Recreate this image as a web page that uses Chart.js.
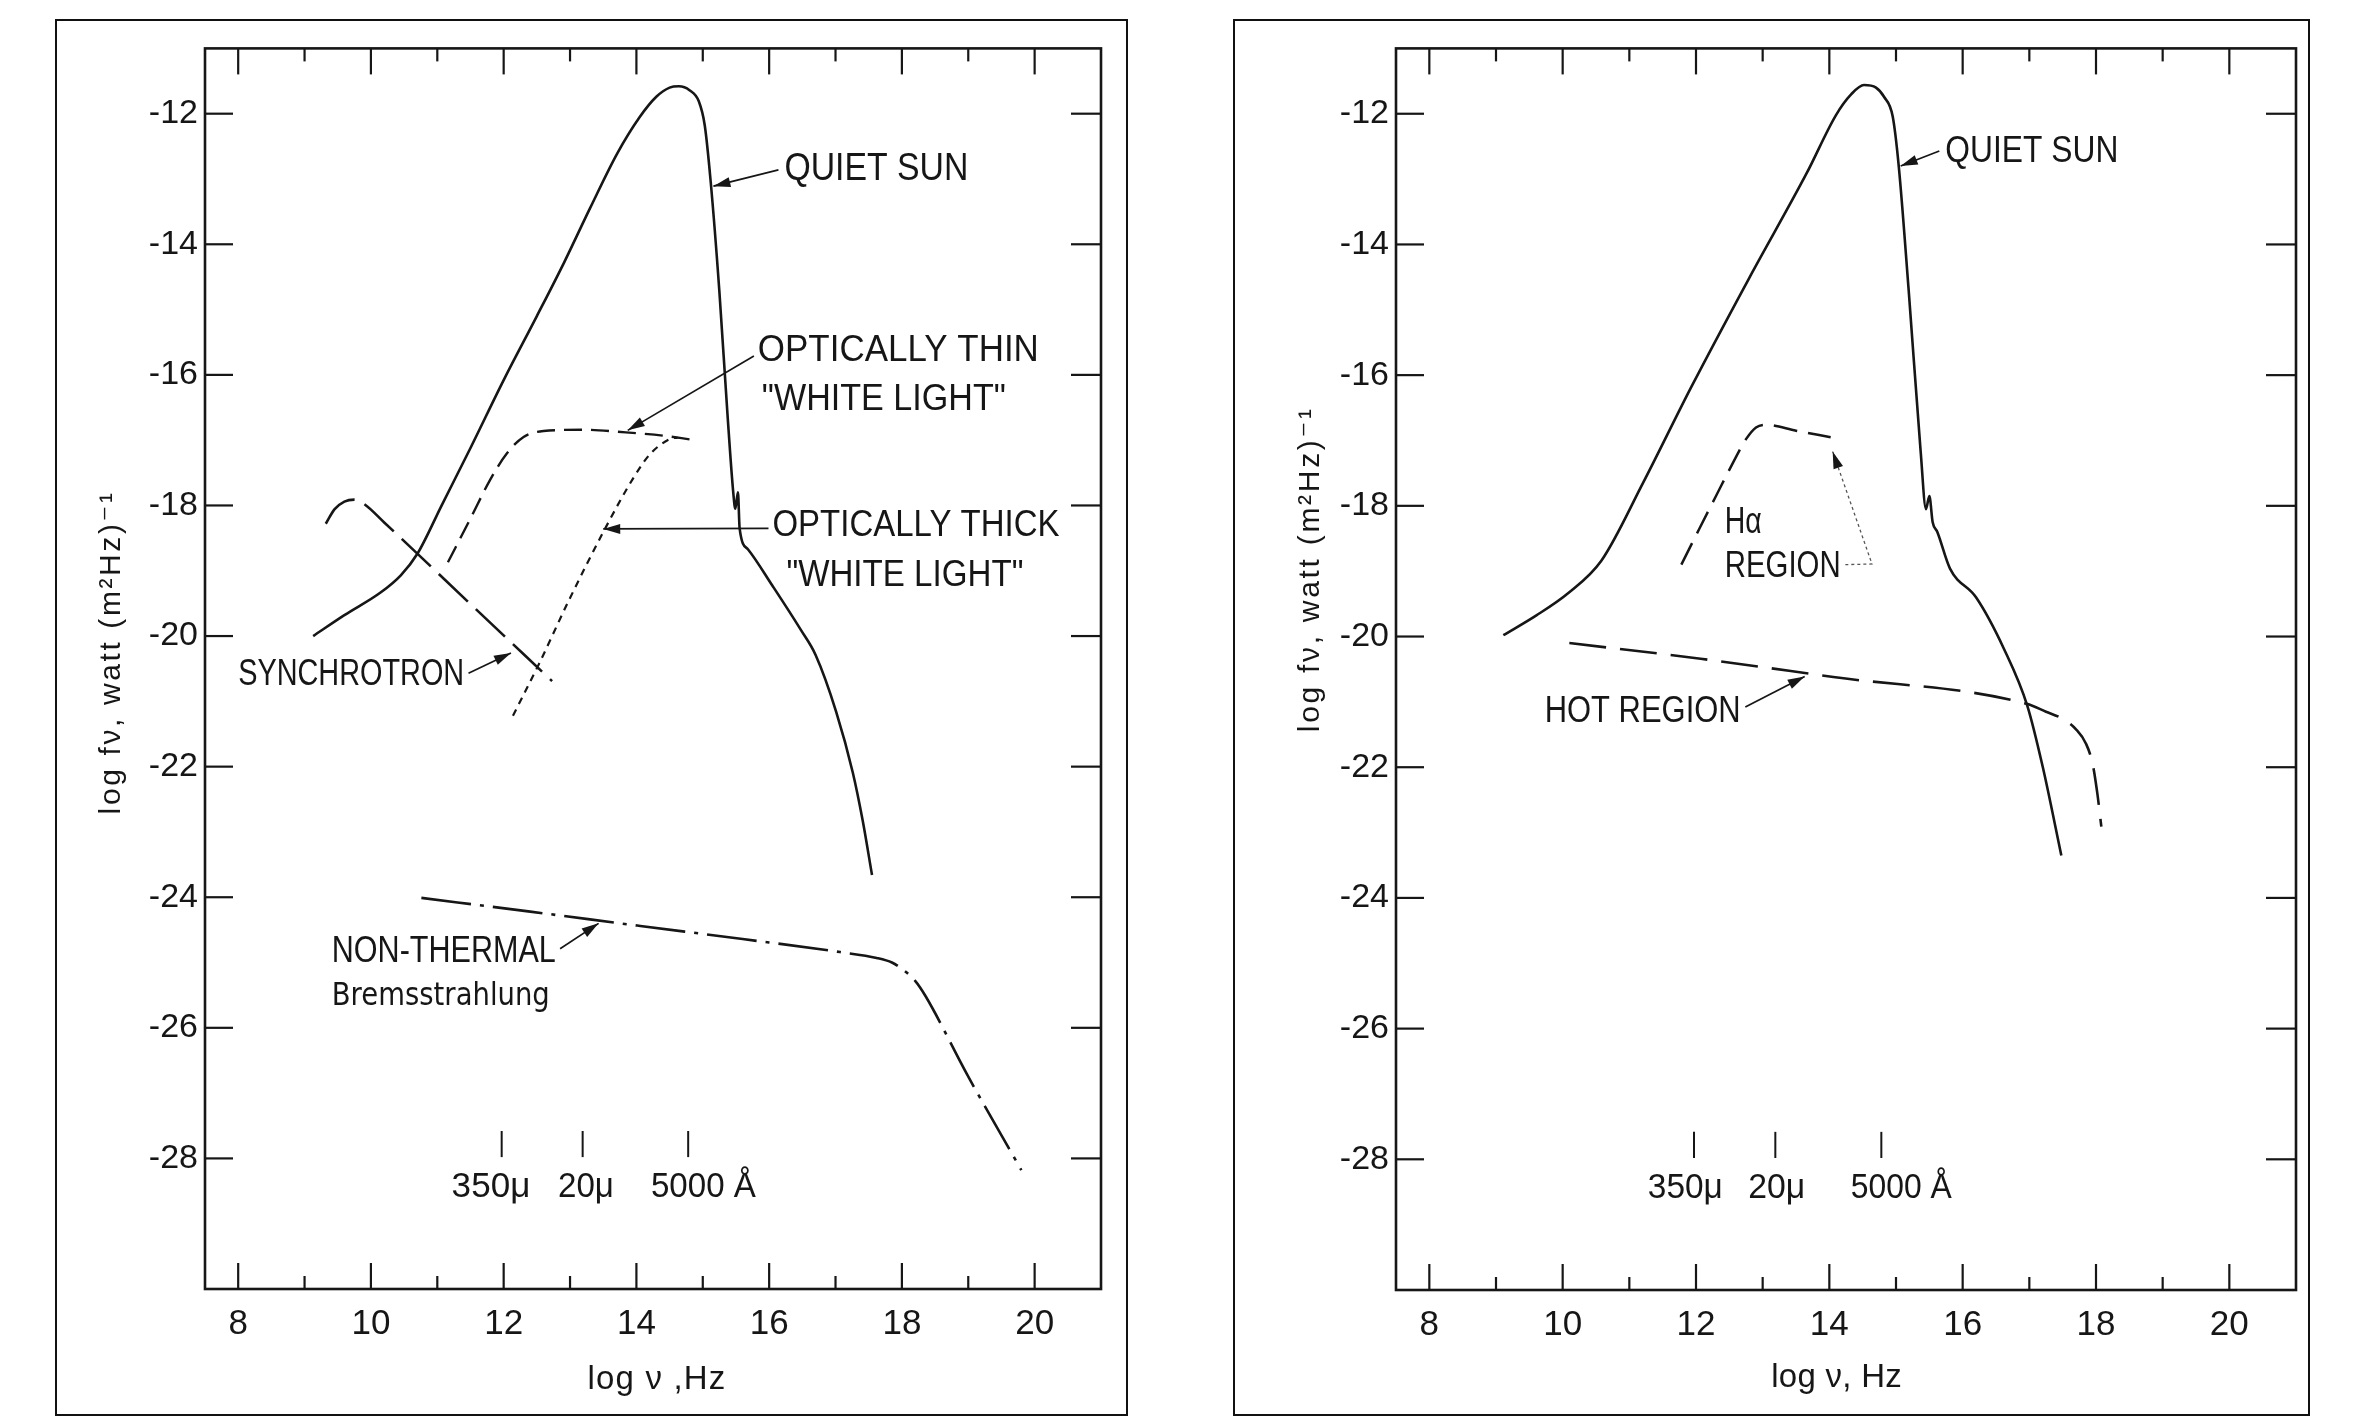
<!DOCTYPE html>
<html>
<head>
<meta charset="utf-8">
<script src="https://cdn.jsdelivr.net/npm/chart.js@4.4.1/dist/chart.umd.min.js"></script>
<style>
  html, body { margin: 0; padding: 0; background: #fff; }
  body { width: 2360px; height: 1416px; position: relative; overflow: hidden; }
  .panel { position: absolute; border: 2px solid #111; background: #fff; }
  #panelA { left: 55px; top: 19px; width: 1069px; height: 1393px; }
  #panelB { left: 1233px; top: 19px; width: 1073px; height: 1393px; }
  canvas { display: block; }
</style>
</head>
<body>
<div class="panel" id="panelA"><canvas id="chartA"></canvas></div>
<div class="panel" id="panelB"><canvas id="chartB"></canvas></div>
<script>
/* axis ticks, shared by both panels */
const xTickValues = [8, 10, 12, 14, 16, 18, 20];
const xMinorValues = [9, 11, 13, 15, 17, 19];
const yTickValues = [-12, -14, -16, -18, -20, -22, -24, -26, -28];

/* wavelength markers along the bottom (log nu) */
const markerNames = ['350μ', '20μ', '5000 Å'];
const markerLogNu = [11.97, 13.19, 14.78];

/* left panel: [log nu, log f_nu] */
const quietSunA = [[9.13,-20.00],[9.6,-19.68],[10.15,-19.33],[10.45,-19.07],[10.7,-18.74],[11.07,-17.99],[11.5,-17.12],
  [12.0,-16.08],[12.5,-15.10],[12.91,-14.28],[13.3,-13.45],[13.71,-12.61],[14.05,-12.05],[14.3,-11.74],[14.5,-11.60],
  [14.64,-11.58],[14.8,-11.64],[14.94,-11.81],[15.03,-12.18],[15.12,-13.05],[15.25,-14.72],[15.37,-16.57],[15.46,-17.81],
  [15.49,-18.05],[15.53,-17.80],[15.555,-18.35],[15.68,-18.67],[16.05,-19.23],[16.48,-19.91],[16.70,-20.29],[17.01,-21.16],
  [17.26,-22.09],[17.41,-22.83],[17.55,-23.66]];
const opticallyThinA = [[11.16,-18.87],[11.5,-18.2],[11.8,-17.6],[12.05,-17.2],[12.3,-16.95],[12.6,-16.86],[13.2,-16.84],
  [13.84,-16.88],[14.4,-16.93],[14.82,-16.99]];
const opticallyThickA = [[12.14,-21.22],[12.54,-20.41],[12.97,-19.48],[13.52,-18.37],[13.96,-17.57],[14.2,-17.22],
  [14.51,-16.98],[14.62,-16.96]];
const synchrotronA = [[9.32,-18.28],[9.45,-18.06],[9.6,-17.94],[9.75,-17.91],[9.9,-17.98],[10.2,-18.26],[11.5,-19.51],[12.73,-20.69]];
const bremsA = [[10.76,-24.01],[12.4,-24.22],[14.06,-24.44],[15.6,-24.64],[17.07,-24.84],[17.62,-24.93],[17.85,-25.00],
  [17.99,-25.09],[18.2,-25.28],[18.36,-25.52],[18.98,-26.71],[19.80,-28.18]];

/* right panel */
const quietSunB = [[9.11,-19.98],[9.6,-19.68],[10.09,-19.33],[10.58,-18.84],[11.2,-17.66],[11.93,-16.18],[12.8,-14.51],
  [13.66,-12.91],[14.1,-12.02],[14.33,-11.70],[14.52,-11.56],[14.7,-11.60],[14.82,-11.74],[14.95,-12.04],[15.04,-12.79],
  [15.19,-14.70],[15.37,-17.17],[15.45,-18.05],[15.50,-17.85],[15.55,-18.25],[15.62,-18.40],[15.81,-18.96],[16.2,-19.40],
  [16.62,-20.19],[16.97,-21.06],[17.20,-21.99],[17.48,-23.35]];
const hAlphaB = [[11.78,-18.90],[12.05,-18.35],[12.3,-17.85],[12.55,-17.35],[12.75,-16.98],[12.9,-16.80],[13.05,-16.76],
  [13.5,-16.85],[14.02,-16.95]];
const hotRegionB = [[10.10,-20.10],[12.07,-20.34],[14.06,-20.62],[16.96,-21.03],[17.25,-21.15],[17.5,-21.26],[17.7,-21.42],
  [17.85,-21.64],[17.95,-21.95],[18.02,-22.40],[18.08,-22.91]];

const INK = '#161616';
const FONT = "'Liberation Sans Narrow', 'Liberation Sans', 'DejaVu Sans', sans-serif";

function toXY(arr) {
  return arr.map(p => ({ x: p[0], y: p[1] }));
}

function curve(data, dash, width) {
  return {
    data: toXY(data),
    showLine: true,
    borderColor: INK,
    borderWidth: width,
    borderDash: dash,
    pointRadius: 0,
    fill: false,
    cubicInterpolationMode: 'monotone'
  };
}

/* draws text stretched or squeezed to the width it has in the picture */
function fitText(ctx, str, x, y, size, width, family) {
  ctx.save();
  ctx.font = size + 'px ' + (family || FONT);
  ctx.letterSpacing = '0px';
  const w0 = ctx.measureText(str).width;
  ctx.translate(x, y);
  if (w0 < width) {
    ctx.letterSpacing = ((width - w0) / str.length) + 'px';
  } else {
    ctx.scale(width / w0, 1);
  }
  ctx.fillText(str, 0, 0);
  ctx.restore();
}

function arrowHead(ctx, x0, y0, x1, y1) {
  const ang = Math.atan2(y1 - y0, x1 - x0);
  const len = 17, half = 5;
  ctx.beginPath();
  ctx.moveTo(x1, y1);
  ctx.lineTo(x1 - len * Math.cos(ang) + half * Math.sin(ang), y1 - len * Math.sin(ang) - half * Math.cos(ang));
  ctx.lineTo(x1 - len * Math.cos(ang) - half * Math.sin(ang), y1 - len * Math.sin(ang) + half * Math.cos(ang));
  ctx.closePath();
  ctx.fill();
}

/* frame, inward ticks, labels with arrows, wavelength markers, axis titles */
function decor(cfg) {
  return {
    id: 'decor',
    afterDraw(chart) {
      const { ctx, chartArea: a } = chart;
      const xs = chart.scales.x, ys = chart.scales.y;
      const px = v => xs.getPixelForValue(v);
      const py = v => ys.getPixelForValue(v);
      const seg = (x0, y0, x1, y1) => { ctx.beginPath(); ctx.moveTo(x0, y0); ctx.lineTo(x1, y1); ctx.stroke(); };

      ctx.save();
      ctx.strokeStyle = INK;
      ctx.fillStyle = INK;

      ctx.lineWidth = 2.6;
      ctx.strokeRect(a.left, a.top, a.right - a.left, a.bottom - a.top);

      ctx.lineWidth = 2.2;
      xTickValues.concat(xMinorValues).forEach(v => {
        const len = xTickValues.includes(v) ? 26 : 13;
        seg(px(v), a.top, px(v), a.top + len);
        seg(px(v), a.bottom, px(v), a.bottom - len);
      });
      yTickValues.forEach(v => {
        seg(a.left, py(v), a.left + 28, py(v));
        seg(a.right, py(v), a.right - 30, py(v));
      });

      // wavelength markers
      ctx.lineWidth = 2;
      ctx.textBaseline = 'middle';
      ctx.textAlign = 'left';
      markerLogNu.forEach((v, i) => {
        seg(px(v), py(-27.58), px(v), py(-27.98));
        const w = cfg.markerWidths[i];
        fitText(ctx, markerNames[i], px(cfg.markerLabelX[i]) - w / 2, py(-28.45), 35, w);
      });

      // curve labels
      cfg.notes.forEach(n => {
        fitText(ctx, n.t, px(n.x), py(n.y), n.s, n.w, n.f);
      });

      // pointer arrows
      ctx.lineWidth = 1.7;
      cfg.arrows.forEach(p => {
        seg(px(p[0][0]), py(p[0][1]), px(p[1][0]), py(p[1][1]));
        arrowHead(ctx, px(p[0][0]), py(p[0][1]), px(p[1][0]), py(p[1][1]));
      });
      if (cfg.leader) {
        const L = cfg.leader;
        ctx.lineWidth = 1.3;
        ctx.strokeStyle = '#555';
        ctx.setLineDash([3, 3]);
        ctx.beginPath();
        ctx.moveTo(px(L[0][0]), py(L[0][1]));
        for (let i = 1; i < L.length; i++) ctx.lineTo(px(L[i][0]), py(L[i][1]));
        ctx.stroke();
        ctx.setLineDash([]);
        const n = L.length;
        arrowHead(ctx, px(L[n - 2][0]), py(L[n - 2][1]), px(L[n - 1][0]), py(L[n - 1][1]));
        ctx.strokeStyle = INK;
      }

      // axis titles
      ctx.textBaseline = 'middle';
      fitText(ctx, cfg.xTitle, px(cfg.xTitleAt) - cfg.xTitleWidth / 2, a.bottom + cfg.xTitleDrop, 33, cfg.xTitleWidth);
      ctx.save();
      ctx.translate(a.left - cfg.yTitleInset, py(cfg.yTitleAt));
      ctx.rotate(-Math.PI / 2);
      ctx.textBaseline = 'alphabetic';
      fitText(ctx, 'log fν, watt (m²Hz)⁻¹', -cfg.yTitleWidth / 2, 0, 30, cfg.yTitleWidth);
      ctx.restore();

      ctx.restore();
    }
  };
}

function options(pad, yWidth, xHeight) {
  return {
    responsive: true,
    maintainAspectRatio: false,
    animation: false,
    layout: { padding: pad },
    plugins: { legend: { display: false }, tooltip: { enabled: false } },
    scales: {
      x: {
        type: 'linear', min: 7.5, max: 21,
        grid: { display: false, drawTicks: false },
        border: { display: false },
        afterBuildTicks: s => { s.ticks = xTickValues.map(v => ({ value: v })); },
        afterFit: s => { s.height = xHeight; },
        ticks: { color: INK, padding: 14, maxRotation: 0, autoSkip: false, font: { family: FONT, size: 35 },
                 callback: v => String(v) }
      },
      y: {
        type: 'linear', min: -30, max: -11,
        grid: { display: false, drawTicks: false },
        border: { display: false },
        afterBuildTicks: s => { s.ticks = yTickValues.map(v => ({ value: v })); },
        afterFit: s => { s.width = yWidth; },
        ticks: { color: INK, padding: 7, autoSkip: false, font: { family: FONT, size: 34 },
                 callback: v => String(v) }
      }
    }
  };
}

window.onload = function () {
  /* left panel: flare components */
  new Chart(document.getElementById('chartA'), {
    type: 'scatter',
    data: {
      datasets: [
        curve(quietSunA, [], 2.6),
        curve(opticallyThinA, [18, 9], 2.4),
        curve(opticallyThickA, [7, 6], 2.2),
        curve(synchrotronA, [40, 11], 2.6),
        curve(bremsA, [50, 9, 4, 9], 2.6)
      ]
    },
    options: options({ top: 20, right: 25, left: 0, bottom: 0 }, 148, 125),
    plugins: [decor({
      notes: [
        { t: 'QUIET SUN', x: 16.23, y: -12.85, s: 38, w: 184 },
        { t: 'OPTICALLY THIN', x: 15.83, y: -15.64, s: 36, w: 281 },
        { t: '"WHITE LIGHT"', x: 15.89, y: -16.38, s: 36, w: 244 },
        { t: 'OPTICALLY THICK', x: 16.05, y: -18.32, s: 36, w: 287 },
        { t: '"WHITE LIGHT"', x: 16.26, y: -19.08, s: 36, w: 237 },
        { t: 'SYNCHROTRON', x: 8.0, y: -20.60, s: 36, w: 226 },
        { t: 'NON-THERMAL', x: 9.41, y: -24.84, s: 36, w: 224 },
        { t: 'Bremsstrahlung', x: 9.41, y: -25.52, s: 32, w: 218, f: "'DejaVu Sans', sans-serif" }
      ],
      arrows: [
        [[16.14, -12.86], [15.16, -13.11]],
        [[15.77, -15.71], [13.87, -16.85]],
        [[15.99, -18.35], [13.50, -18.36]],
        [[11.47, -20.57], [12.11, -20.26]],
        [[12.85, -24.79], [13.43, -24.40]]
      ],
      markerLabelX: [11.81, 13.24, 15.01],
      markerWidths: [79, 56, 105],
      xTitle: 'log ν ,Hz', xTitleAt: 14.31, xTitleWidth: 139, xTitleDrop: 91,
      yTitleAt: -20.25, yTitleInset: 85, yTitleWidth: 324
    })]
  });

  /* right panel: H-alpha and hot region */
  new Chart(document.getElementById('chartB'), {
    type: 'scatter',
    data: {
      datasets: [
        curve(quietSunB, [], 2.6),
        curve(hAlphaB, [24, 11], 2.5),
        curve(hotRegionB, [37, 14], 2.6)
      ]
    },
    options: options({ top: 17, right: 12, left: 0, bottom: 0 }, 161, 124),
    plugins: [decor({
      notes: [
        { t: 'QUIET SUN', x: 15.74, y: -12.58, s: 37, w: 173 },
        { t: 'Hα', x: 12.43, y: -18.26, s: 36, w: 37 },
        { t: 'REGION', x: 12.43, y: -18.94, s: 36, w: 116 },
        { t: 'HOT REGION', x: 9.73, y: -21.15, s: 36, w: 196 }
      ],
      arrows: [
        [[15.65, -12.57], [15.07, -12.80]],
        [[12.74, -21.08], [13.63, -20.61]]
      ],
      leader: [[14.24, -18.90], [14.64, -18.89], [14.05, -17.17]],
      markerLabelX: [11.84, 13.21, 15.08],
      markerWidths: [75, 57, 101],
      xTitle: 'log ν, Hz', xTitleAt: 14.11, xTitleWidth: 131, xTitleDrop: 88,
      yTitleAt: -18.97, yTitleInset: 77, yTitleWidth: 326
    })]
  });
};
</script>
</body>
</html>
